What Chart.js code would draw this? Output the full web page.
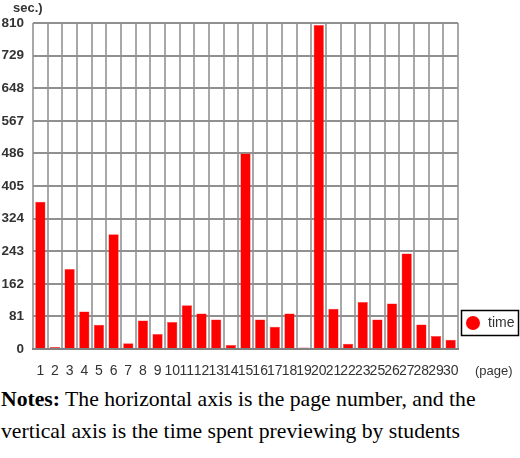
<!DOCTYPE html>
<html>
<head>
<meta charset="utf-8">
<script src="https://cdn.jsdelivr.net/npm/chart.js@4"></script>
<style>
  body { margin: 0; background: #fff; }
  #wrap { position: relative; width: 520px; height: 385px; }
  #notes { font-family: "Liberation Serif", "Times New Roman", serif; font-size: 21.7px; line-height: 32px; color: #000; margin: -2px 0 0 1px; }
</style>
</head>
<body>
<div id="wrap"><canvas id="myChart" width="520" height="385"></canvas></div>
<div id="notes"><b>Notes:</b> The horizontal axis is the page number, and the vertical axis is the time spent previewing by students</div>
<script>
// pages on the x axis (24 is missing in the source)
const pages = ['1','2','3','4','5','6','7','8','9','10','11','12','13','14','15','16','17','18','19','20','21','22','23','25','26','27','28','29','30']
// seconds spent on each page
const times = [366, 5, 199, 93, 60, 285, 14, 71, 37, 67, 109, 88, 73, 10, 486, 73, 55, 88, 4, 805, 100, 13, 117, 73, 113, 237, 61, 32, 23]
const yTicks = [0, 81, 162, 243, 324, 405, 486, 567, 648, 729, 810]

// draws the "sec.)" and "(page)" captions plus the boxed legend
const extras = {
    id: 'extras',
    afterDraw(chart) {
        const ctx = chart.ctx
        ctx.save()
        ctx.fillStyle = '#333'
        ctx.font = 'bold 13px "Liberation Sans", Arial, sans-serif'
        ctx.textBaseline = 'middle'
        ctx.textAlign = 'left'
        ctx.fillText('sec.)', 13, 8)
        ctx.font = '13px "Liberation Sans", Arial, sans-serif'
        ctx.fillText('(page)', 475, 371)
        // legend box
        ctx.strokeStyle = '#000'
        ctx.lineWidth = 1.5
        ctx.strokeRect(461.5, 310.5, 57, 25)
        ctx.fillStyle = '#ff0000'
        ctx.beginPath()
        ctx.arc(473, 323, 7, 0, Math.PI * 2)
        ctx.fill()
        ctx.fillStyle = '#333'
        ctx.font = '14px "Liberation Sans", Arial, sans-serif'
        ctx.fillText(chart.data.datasets[0].label, 488, 323)
        ctx.restore()
    }
}

var ctx = document.getElementById('myChart').getContext('2d')
var myChart = new Chart(ctx, {
    type: 'bar',
    data: {
        labels: pages,
        datasets: [{
            label: 'time',
            data: times,
            backgroundColor: '#ff0000',
            borderColor: '#ff4040',
            borderWidth: 0.5,
            categoryPercentage: 1,
            barPercentage: 0.7
        }]
    },
    options: {
        responsive: false,
        animation: false,
        layout: { padding: { top: 23, right: 62, left: 0, bottom: 0 } },
        plugins: { legend: { display: false }, tooltip: { enabled: false } },
        scales: {
            x: {
                afterFit: (scale) => { scale.height = 36 },
                grid: { offset: true, color: '#a8a8a8', lineWidth: 2, drawTicks: false },
                border: { color: '#808080', width: 2 },
                ticks: {
                    autoSkip: false, maxRotation: 0, padding: 14, color: '#333',
                    font: { family: '"Liberation Sans", Arial, sans-serif', size: 14 }
                }
            },
            y: {
                min: 0,
                max: 810,
                afterFit: (scale) => { scale.width = 33 },
                afterBuildTicks: (scale) => { scale.ticks = yTicks.map(v => ({ value: v })) },
                grid: { color: '#909090', lineWidth: 2, drawTicks: false },
                border: { display: false },
                ticks: {
                    padding: 9, color: '#333',
                    font: { family: '"Liberation Sans", Arial, sans-serif', size: 13.5, weight: 'bold' }
                }
            }
        }
    },
    plugins: [extras]
})
</script>
</body>
</html>
